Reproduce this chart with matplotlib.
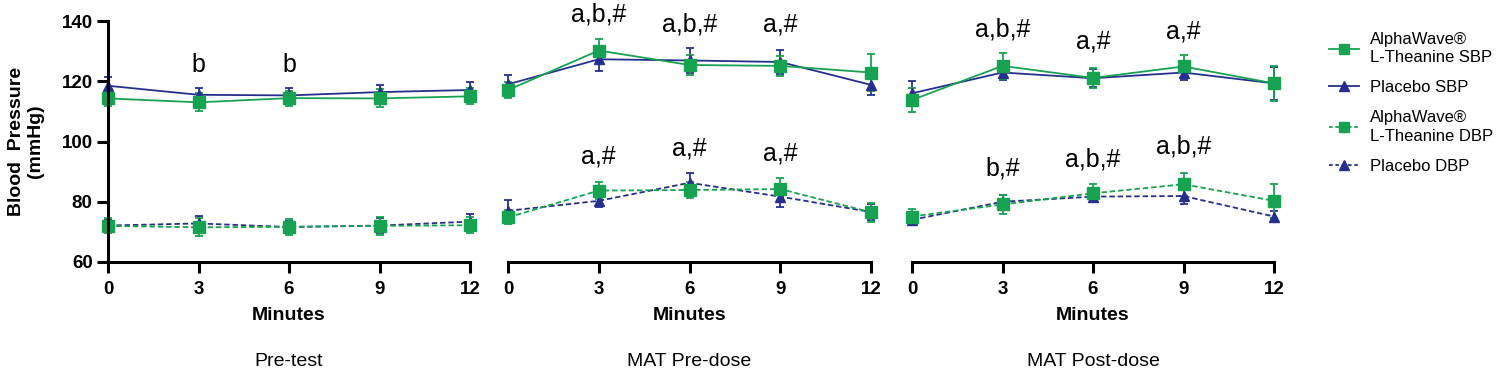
import matplotlib
matplotlib.use("Agg")
import matplotlib.pyplot as plt
from matplotlib.lines import Line2D

plt.rcParams['font.family'] = ['Liberation Sans', 'DejaVu Sans']

minutes = [0, 3, 6, 9, 12]
panel_titles = ["Pre-test", "MAT Pre-dose", "MAT Post-dose"]
yticks = [60, 80, 100, 120, 140]

# Pre-test
alpha_sbp_pre = [114.3, 113.0, 114.4, 114.3, 115.0]
alpha_sbp_pre_err = [2.5, 3.0, 2.5, 3.0, 2.7]
placebo_sbp_pre = [118.5, 115.5, 115.3, 116.4, 117.1]
placebo_sbp_pre_err = [3.0, 2.3, 2.3, 2.5, 2.5]
alpha_dbp_pre = [72.0, 71.5, 71.7, 72.0, 72.2]
alpha_dbp_pre_err = [2.5, 3.0, 2.6, 3.0, 2.7]
placebo_dbp_pre = [72.1, 72.8, 71.6, 72.1, 73.4]
placebo_dbp_pre_err = [2.0, 2.5, 2.0, 2.5, 2.5]

# MAT Pre-dose
alpha_sbp_matpre = [117.1, 130.2, 125.4, 125.1, 122.9]
alpha_sbp_matpre_err = [2.5, 3.8, 3.3, 3.3, 6.0]
placebo_sbp_matpre = [119.0, 127.3, 126.9, 126.4, 118.8]
placebo_sbp_matpre_err = [3.0, 4.0, 4.0, 4.0, 3.3]
alpha_dbp_matpre = [74.8, 83.7, 83.9, 84.2, 76.5]
alpha_dbp_matpre_err = [2.3, 2.7, 2.7, 3.6, 3.2]
placebo_dbp_matpre = [77.0, 80.3, 86.3, 81.7, 76.6]
placebo_dbp_matpre_err = [3.6, 2.0, 3.4, 3.4, 2.6]

# MAT Post-dose
alpha_sbp_matpost = [113.8, 125.1, 121.1, 124.9, 119.3]
alpha_sbp_matpost_err = [3.9, 4.2, 3.4, 3.7, 5.9]
placebo_sbp_matpost = [116.0, 122.9, 121.0, 122.9, 119.3]
placebo_sbp_matpost_err = [4.0, 2.5, 3.0, 2.6, 5.5]
alpha_dbp_matpost = [75.1, 79.1, 82.8, 85.8, 80.3]
alpha_dbp_matpost_err = [2.6, 3.3, 3.0, 3.9, 5.6]
placebo_dbp_matpost = [74.0, 80.0, 81.7, 81.9, 75.1]
placebo_dbp_matpost_err = [1.5, 2.3, 1.5, 2.5, 1.7]

# significance annotations: (panel index, minute, y, text)
annotations = [
    (0, 3, 125.5, "b"), (0, 6, 125.5, "b"),
    (1, 3, 142.0, "a,b,#"), (1, 6, 138.7, "a,b,#"), (1, 9, 138.7, "a,#"),
    (1, 3, 95.0, "a,#"), (1, 6, 97.8, "a,#"), (1, 9, 95.9, "a,#"),
    (2, 3, 137.3, "a,b,#"), (2, 6, 133.2, "a,#"), (2, 9, 136.5, "a,#"),
    (2, 3, 91.1, "b,#"), (2, 6, 94.1, "a,b,#"), (2, 9, 98.3, "a,b,#"),
]

legend_labels = ["AlphaWave®\nL-Theanine SBP", "Placebo SBP",
                 "AlphaWave®\nL-Theanine DBP", "Placebo DBP"]

GREEN = "#16a251"
BLUE = "#262f8e"

panels = [
    (alpha_sbp_pre, alpha_sbp_pre_err, placebo_sbp_pre, placebo_sbp_pre_err,
     alpha_dbp_pre, alpha_dbp_pre_err, placebo_dbp_pre, placebo_dbp_pre_err),
    (alpha_sbp_matpre, alpha_sbp_matpre_err, placebo_sbp_matpre, placebo_sbp_matpre_err,
     alpha_dbp_matpre, alpha_dbp_matpre_err, placebo_dbp_matpre, placebo_dbp_matpre_err),
    (alpha_sbp_matpost, alpha_sbp_matpost_err, placebo_sbp_matpost, placebo_sbp_matpost_err,
     alpha_dbp_matpost, alpha_dbp_matpost_err, placebo_dbp_matpost, placebo_dbp_matpost_err),
]

fig = plt.figure(figsize=(15, 3.75), dpi=100)
W, H = 1500, 375
lefts = [108, 508, 912]
widths = [362, 363, 362]
top_px, bot_px = 21, 262

dash = (0, (3, 1.6))
axes = []
for i, (a_s, a_se, p_s, p_se, a_d, a_de, p_d, p_de) in enumerate(panels):
    ax = fig.add_axes([lefts[i] / W, 1 - bot_px / H, widths[i] / W, (bot_px - top_px) / H])
    axes.append(ax)
    common = dict(capsize=3.2, elinewidth=1.3, capthick=1.3, lw=1.3)
    for series, err, col, mk, ls in [
        (p_s, p_se, BLUE, '^', '-'),
        (a_s, a_se, GREEN, 's', '-'),
        (p_d, p_de, BLUE, '^', dash),
        (a_d, a_de, GREEN, 's', dash),
    ]:
        cont = ax.errorbar(minutes, series, yerr=err, color=col, ecolor=col, marker=mk,
                           markersize=8 if mk == 's' else 7.5, linestyle=ls, **common)
        for c in cont.get_children():
            c.set_clip_on(False)
    ax.set_xlim(0, 12)
    ax.set_ylim(60, 140)
    ax.set_xticks(minutes)
    ax.set_xticklabels([str(m) for m in minutes], fontsize=13.5, fontweight='bold')
    ax.spines['top'].set_visible(False)
    ax.spines['right'].set_visible(False)
    ax.spines['bottom'].set_linewidth(2.2)
    ax.spines['left'].set_linewidth(2.2)
    ax.tick_params(axis='x', length=8, width=2.2, pad=6)
    if i == 0:
        ax.set_yticks(yticks)
        ax.set_yticklabels([str(t) for t in yticks], fontsize=13.5, fontweight='bold')
        ax.tick_params(axis='y', length=8, width=2.2, pad=3)
    else:
        ax.spines['left'].set_visible(False)
        ax.set_yticks([])
    ax.set_xlabel("Minutes", fontsize=14, fontweight='bold', labelpad=6)
    ax.patch.set_visible(False)
    ax.text(0.5, -(362 - bot_px) / (bot_px - top_px), panel_titles[i],
            transform=ax.transAxes, ha='center', va='center', fontsize=14)

for (pi, xm, yv, txt) in annotations:
    axes[pi].text(xm, yv, txt, ha='center', va='center', fontsize=18)

fig.text(26 / W, 1 - 141.5 / H, "Blood  Pressure\n(mmHg)", rotation=90, ha='center', va='center',
         fontsize=14, fontweight='bold', multialignment='center', linespacing=1.2)

handles = [
    Line2D([], [], color=GREEN, marker='s', markersize=7, lw=1.3, linestyle='-'),
    Line2D([], [], color=BLUE, marker='^', markersize=7, lw=1.3, linestyle='-'),
    Line2D([], [], color=GREEN, marker='s', markersize=7, lw=1.3, linestyle=(0, (2, 1.5))),
    Line2D([], [], color=BLUE, marker='^', markersize=7, lw=1.3, linestyle=(0, (2, 1.5))),
]
leg = fig.legend(handles, legend_labels, loc='upper left', bbox_to_anchor=(1322 / W, 1 - 25 / H),
                 frameon=False, fontsize=12, handlelength=1.8, handletextpad=0.65,
                 labelspacing=0.9, borderaxespad=0.0)
for t in leg.get_texts():
    t.set_linespacing(1.3)

fig.savefig("out.png", dpi=100)
